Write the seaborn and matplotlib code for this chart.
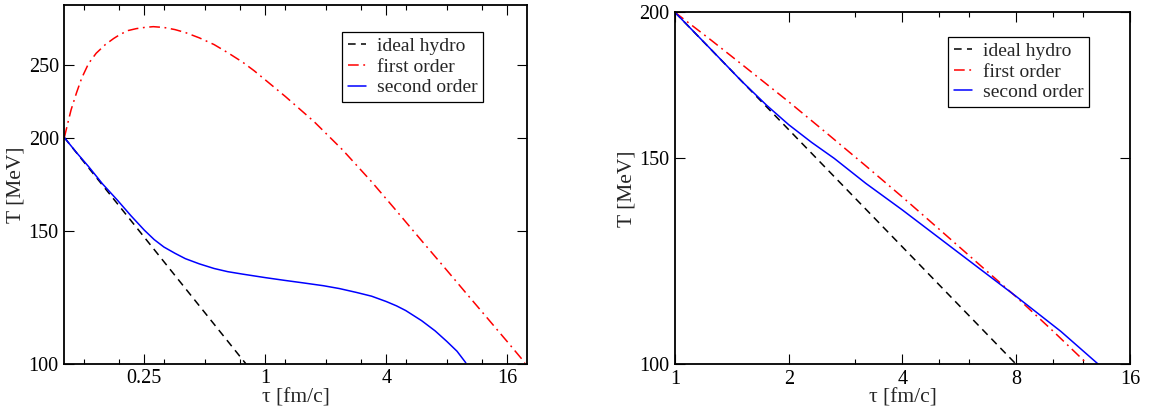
import numpy as np
import pandas as pd
import matplotlib
matplotlib.use("Agg")
import matplotlib.pyplot as plt
from matplotlib.ticker import FixedLocator, NullLocator, FuncFormatter
import seaborn as sns

# ---- Bjorken expansion, tau0 = 0.1 fm/c ----
left_ideal_tau = [0.1, 0.8]
left_ideal_T = [200.0, 100.0]

left_first_tau = [0.1, 0.104, 0.108, 0.115, 0.122, 0.132, 0.144, 0.16, 0.176, 0.19, 0.208,
                  0.228, 0.25, 0.277, 0.313, 0.355, 0.40,
                  0.47, 0.556, 0.65, 0.772, 0.88, 1.0, 1.26, 1.75, 2.43, 3.38, 4.32,
                  6.0, 8.0, 10.0, 12.6, 16.1, 19.6]
left_first_T = [200.0, 209.0, 217.7, 229.5, 240.0, 251.0, 259.0, 266.0, 271.0, 274.5, 277.7,
                279.3, 280.3, 281.0, 280.3, 278.5, 276.0,
                271.5, 266.0, 259.5, 252.0, 245.5, 238.7, 226.8, 210.0, 192.5, 174.7, 161.8,
                145.8, 133.2, 124.1, 115.4, 106.8, 100.3]

left_second_tau = [0.1, 0.115, 0.132, 0.155, 0.184, 0.215, 0.25, 0.28, 0.313, 0.355, 0.40,
                   0.47, 0.556, 0.65, 0.772, 1.0, 1.25, 1.55,
                   1.95, 2.34, 2.85, 3.38, 4.0, 4.5, 5.0, 6.0, 7.0, 8.0, 9.0, 9.95]
left_second_T = [200.0, 191.0, 183.0, 173.5, 165.0, 157.3, 150.6, 146.3, 143.0, 140.3, 138.0,
                 135.8, 133.9, 132.6, 131.6, 130.2, 129.1, 128.1,
                 127.0, 125.9, 124.4, 123.0, 121.0, 119.4, 117.7, 114.1, 110.6, 107.1,
                 103.9, 100.3]

# ---- Bjorken expansion, tau0 = 1 fm/c ----
right_ideal_tau = [1.0, 8.0]
right_ideal_T = [200.0, 100.0]

right_first_tau = [1.0, 1.25, 1.5, 2.0, 2.5, 3.2, 4.0, 5.0, 6.3, 8.0, 10.0, 12.25]
right_first_T = [200.0, 189.2, 180.6, 167.7, 158.0, 147.8, 139.0, 130.5, 122.2, 114.2,
                 106.8, 100.3]

right_second_tau = [1.0, 1.25, 1.5, 1.75, 2.0, 2.3, 2.64, 3.2, 4.0, 5.5, 8.0, 10.5, 13.2]
right_second_T = [200.0, 185.7, 174.7, 166.5, 160.3, 154.8, 150.0, 142.8, 135.5, 125.3,
                  114.3, 106.7, 100.0]

series_names = ["ideal hydro", "first order", "second order"]


def frame(taus, temps):
    rows = []
    for name, t, T in zip(series_names, taus, temps):
        for a, b in zip(t, T):
            rows.append({"tau": a, "T": b, "model": name})
    return pd.DataFrame(rows)


df_left = frame([left_ideal_tau, left_first_tau, left_second_tau],
                [left_ideal_T, left_first_T, left_second_T])
df_right = frame([right_ideal_tau, right_first_tau, right_second_tau],
                 [right_ideal_T, right_first_T, right_second_T])

sns.set_style("ticks")
plt.rcParams["font.family"] = ["Liberation Serif", "DejaVu Serif"]

palette = {"ideal hydro": "black", "first order": "#ff0000", "second order": "#0000ff"}
styles = {"ideal hydro": (0, (5, 3.5)),
          "first order": (0, (7, 3, 1.2, 3)),
          "second order": "-"}

fig = plt.figure(figsize=(11.51, 4.12), dpi=100)
ax_l = fig.add_axes([0.0559, 0.1172, 0.4017, 0.8699])
ax_r = fig.add_axes([0.5864, 0.1158, 0.3953, 0.8543])


def draw(ax, df):
    for name in series_names:
        sub = df[df["model"] == name]
        sns.lineplot(data=sub, x="tau", y="T", ax=ax, color=palette[name],
                     linestyle=styles[name], linewidth=1.1, label=name,
                     sort=False, estimator=None)


draw(ax_l, df_left)
draw(ax_r, df_right)

fmt = FuncFormatter(lambda v, p: f"{v:g}")

# left panel axes
ax_l.set_xscale("log")
ax_l.set_yscale("log")
ax_l.set_xlim(0.1, 20)
ax_l.set_ylim(100, 300)
ax_l.xaxis.set_major_locator(FixedLocator([0.25, 1, 4, 16]))
ax_l.xaxis.set_minor_locator(FixedLocator([0.125, 0.1875, 0.3125, 0.5, 0.75,
                                           1.25, 2, 3, 5, 8, 12]))
ax_l.yaxis.set_major_locator(FixedLocator([100, 150, 200, 250]))

# right panel axes
ax_r.set_xscale("log")
ax_r.set_yscale("log")
ax_r.set_xlim(1, 16)
ax_r.set_ylim(100, 200)
ax_r.xaxis.set_major_locator(FixedLocator([1, 2, 4, 8, 16]))
ax_r.xaxis.set_minor_locator(FixedLocator([3, 5, 6, 10, 12]))
ax_r.yaxis.set_major_locator(FixedLocator([100, 150, 200]))

for ax in (ax_l, ax_r):
    ax.xaxis.set_major_formatter(fmt)
    ax.yaxis.set_major_formatter(fmt)
    ax.xaxis.set_minor_formatter(FuncFormatter(lambda v, p: ""))
    ax.yaxis.set_minor_locator(NullLocator())
    ax.tick_params(which="both", direction="in", top=True, right=True,
                   width=0.8, colors="black", labelsize=14.5, pad=4)
    ax.tick_params(which="major", length=7.5)
    ax.tick_params(which="minor", length=3.5)
    for s in ax.spines.values():
        s.set_linewidth(1.3)
        s.set_color("black")
    ax.set_xlabel("τ [fm/c]", fontsize=15.5, labelpad=0)
    ax.set_ylabel("T [MeV]", fontsize=15.5, labelpad=2)

for ax, top in ((ax_l, 0.926), (ax_r, 0.931)):
    leg = ax.legend(loc="upper left", bbox_to_anchor=(0.6, top), borderaxespad=0,
                    fontsize=14, frameon=True, fancybox=False, framealpha=1,
                    edgecolor="black", handlelength=0.95, handletextpad=0.55,
                    labelspacing=0.15, borderpad=0.3)
    leg.get_frame().set_linewidth(0.9)

fig.savefig("out.png", dpi=100)
